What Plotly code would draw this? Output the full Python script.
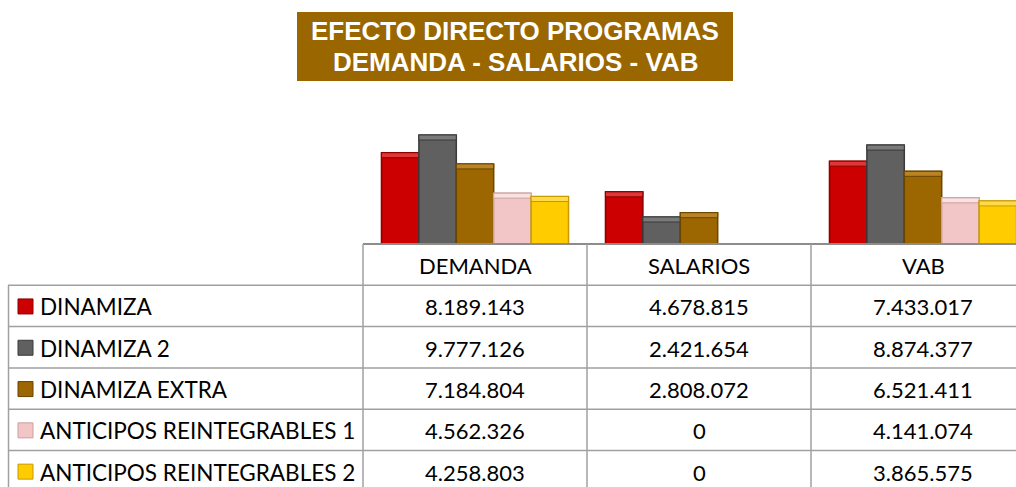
import plotly.graph_objects as go

# ---- data ----
categories = ["DEMANDA", "SALARIOS", "VAB"]
series_names = ["DINAMIZA", "DINAMIZA 2", "DINAMIZA EXTRA",
                "ANTICIPOS REINTEGRABLES 1", "ANTICIPOS REINTEGRABLES 2"]
dinamiza = [8189143, 4678815, 7433017]
dinamiza_2 = [9777126, 2421654, 8874377]
dinamiza_extra = [7184804, 2808072, 6521411]
anticipos_1 = [4562326, 0, 4141074]
anticipos_2 = [4258803, 0, 3865575]
title_lines = ["EFECTO DIRECTO PROGRAMAS", "DEMANDA - SALARIOS - VAB"]

series_values = [dinamiza, dinamiza_2, dinamiza_extra, anticipos_1, anticipos_2]
colors = ["#CC0000", "#606060", "#9C6600", "#F2C6C6", "#FFCC00"]
top_colors = ["#E23535", "#7A7A7A", "#BA8424", "#FBE2E2", "#FFDA4D"]
edge_colors = ["#8A0000", "#3A3A3A", "#6A4500", "#C9A0A0", "#C79A00"]

W, H = 1016, 487
def X(sx): return sx / W
def Y(sy): return 1 - sy / H

def fmt(v):
    return f"{v:,}".replace(",", ".")

# layout geometry (pixels)
plot_left = 363
col_w = 224
base_y = 244
top_y = 100
row_h = 41.3
table_left = 8
font_tbl = "Lato, Calibri, sans-serif"
y_max = 12.92e6
band = y_max * 5 / (base_y - top_y)   # top highlight band height in data units

fig = go.Figure()
for i, (name, vals, c, tc, ec) in enumerate(zip(series_names, series_values, colors, top_colors, edge_colors)):
    xs = list(range(len(categories)))
    fig.add_trace(go.Bar(
        x=xs, y=vals, name=name, offsetgroup=str(i),
        marker=dict(color=c, line=dict(color=ec, width=1.5)),
        showlegend=False, hoverinfo="skip"))
    hb = [band if v > 0 else 0 for v in vals]
    fig.add_trace(go.Bar(
        x=xs, y=hb, base=[v - b for v, b in zip(vals, hb)], offsetgroup=str(i),
        marker=dict(color=tc, line=dict(color=ec, width=1)),
        showlegend=False, hoverinfo="skip"))

ncols_visible = (W - plot_left) / col_w
fig.update_layout(
    width=W, height=H,
    margin=dict(l=0, r=0, t=0, b=0),
    paper_bgcolor="white", plot_bgcolor="white",
    barmode="group", bargap=0.165, bargroupgap=0,
    xaxis=dict(domain=[X(plot_left), 1], range=[-0.5, -0.5 + ncols_visible],
               showticklabels=False, showgrid=False, zeroline=False, ticks=""),
    yaxis=dict(domain=[Y(base_y), Y(top_y)], range=[0, y_max],
               showticklabels=False, showgrid=False, zeroline=False),
)

shapes = []
annotations = []
line_col = "#A0A0A0"

# title box
shapes.append(dict(type="rect", xref="paper", yref="paper",
                   x0=X(297), x1=X(733), y0=Y(81), y1=Y(12),
                   fillcolor="#996600", line=dict(width=0), layer="below"))
for ty, t in zip([31, 61.5], title_lines):
    annotations.append(dict(xref="paper", yref="paper", x=X(515), y=Y(ty),
                            text="<b>" + t + "</b>", showarrow=False,
                            font=dict(family="Liberation Sans, Arial", size=26, color="white"),
                            xanchor="center", yanchor="middle"))

# axis line / top of table
shapes.append(dict(type="line", xref="paper", yref="paper",
                   x0=X(plot_left), x1=1, y0=Y(base_y), y1=Y(base_y),
                   line=dict(color="#8C8C8C", width=2)))

n_rows = len(series_names)
row_ys = [base_y + row_h * (i + 1) for i in range(n_rows + 1)]
for ry in row_ys:
    shapes.append(dict(type="line", xref="paper", yref="paper",
                       x0=X(table_left), x1=1, y0=Y(ry), y1=Y(ry),
                       line=dict(color=line_col, width=1.5)))
shapes.append(dict(type="line", xref="paper", yref="paper",
                   x0=X(table_left + 0.5), x1=X(table_left + 0.5), y0=Y(row_ys[0]), y1=0,
                   line=dict(color=line_col, width=1.5)))
for j in range(len(categories)):
    xl = plot_left + j * col_w
    if xl < W:
        shapes.append(dict(type="line", xref="paper", yref="paper",
                           x0=X(xl), x1=X(xl), y0=Y(base_y), y1=0,
                           line=dict(color=line_col, width=1.5)))

# header labels
for j, cat in enumerate(categories):
    annotations.append(dict(xref="x", yref="paper", x=j, y=Y(base_y + row_h / 2 + 1),
                            text=cat, showarrow=False,
                            font=dict(family=font_tbl, size=22, color="black"),
                            xanchor="center", yanchor="middle"))

# rows
for i, (name, vals, c, ec) in enumerate(zip(series_names, series_values, colors, edge_colors)):
    cy = base_y + row_h * (i + 1) + row_h / 2
    shapes.append(dict(type="rect", xref="paper", yref="paper",
                       x0=X(18), x1=X(33), y0=Y(cy + 8), y1=Y(cy - 7),
                       fillcolor=c, line=dict(color=ec, width=1)))
    annotations.append(dict(xref="paper", yref="paper", x=X(38), y=Y(cy + 1),
                            text=name, showarrow=False,
                            font=dict(family=font_tbl, size=22.5, color="black"),
                            xanchor="left", yanchor="middle"))
    for j, v in enumerate(vals):
        annotations.append(dict(xref="x", yref="paper", x=j, y=Y(cy + 1),
                                text=fmt(v), showarrow=False,
                                font=dict(family=font_tbl, size=22, color="black"),
                                xanchor="center", yanchor="middle"))

fig.update_layout(shapes=shapes, annotations=annotations)
fig.write_html("out.html",
               config={"displayModeBar": False, "staticPlot": True},
               post_script="document.body.style.margin='0';document.body.style.overflow='hidden';")
